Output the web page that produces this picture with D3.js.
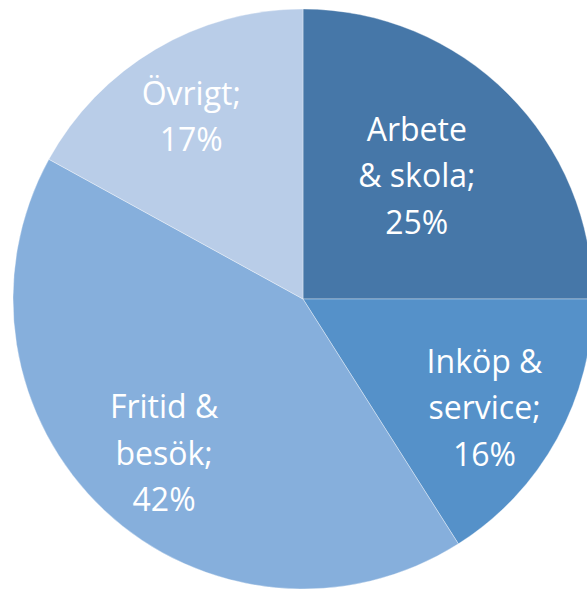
<!DOCTYPE html>
<html>
<head>
<meta charset="utf-8">
<script src="https://cdn.jsdelivr.net/npm/d3@7"></script>
<style>
  html, body { margin: 0; padding: 0; background: #fff; overflow: hidden; }
  svg { display: block; }
  .slice__label { fill: #fff; font-family: 'Open Sans', sans-serif; font-size: 32px; }
</style>
</head>
<body>
<div class="pie__vis"></div>
<script>
// chart data
const categories = ['Arbete & skola', 'Inköp & service', 'Fritid & besök', 'Övrigt']
const shares = [25, 16, 42, 17]
const labelLines = [
	['Arbete', '& skola;', '25%'],
	['Inköp &', 'service;', '16%'],
	['Fritid &', 'besök;', '42%'],
	['Övrigt;', '17%']
]
const colors = ['#4677a8', '#5591c9', '#86afdc', '#b9cde8']

const W = 587
const H = 589
const CX = 303
const CY = 299
const RADIUS = 290
const LINE_H = 46.5

// how far out each label sits (fraction of radius), like excel's best fit
const labelPos = { 'Arbete & skola': 0.55 }
const defaultLabelPos = 0.73
// small nudges so the labels land where excel put them
const labelNudge = {
	'Arbete & skola': [1, -10],
	'Inköp & service': [-4, 7],
	'Fritid & besök': [6, 0],
	'Övrigt': [-4, 0]
}

const visEl = d3.select('.pie__vis')

const svg = visEl.append('svg')
	.attr('width', W)
	.attr('height', H)

const chart = svg.append('g')
	.attr('transform', `translate(${CX},${CY})`)

const pie = d3.pie()
	.sort(null)
	.value(d => d.value)

const data = categories.map((name, i) => ({
	name,
	value: shares[i],
	lines: labelLines[i],
	color: colors[i]
}))

const arcs = pie(data)

const arc = d3.arc()
	.innerRadius(0)
	.outerRadius(RADIUS)

chart.selectAll('.slice')
	.data(arcs)
	.enter()
	.append('path')
	.attr('class', 'slice')
	.attr('d', arc)
	.attr('fill', d => d.data.color)
	.attr('stroke', 'rgba(255,255,255,0.35)')
	.attr('stroke-width', 1)

const labelEnter = chart.selectAll('.slice__label')
	.data(arcs)
	.enter()
	.append('text')
	.attr('class', 'slice__label')
	.attr('text-anchor', 'middle')
	.attr('transform', d => {
		const f = labelPos[d.data.name] || defaultLabelPos
		const r = RADIUS * f
		const [x, y] = d3.arc().innerRadius(r).outerRadius(r).centroid(d)
		const [nx, ny] = labelNudge[d.data.name] || [0, 0]
		return `translate(${x + nx},${y + ny})`
	})

labelEnter.selectAll('tspan')
	.data(d => d.data.lines.map((t, i) => ({ t, i, n: d.data.lines.length })))
	.enter()
	.append('tspan')
	.attr('x', 0)
	.attr('y', d => (d.i - (d.n - 1) / 2) * LINE_H)
	.attr('dy', '0.35em')
	.text(d => d.t)
</script>
</body>
</html>
